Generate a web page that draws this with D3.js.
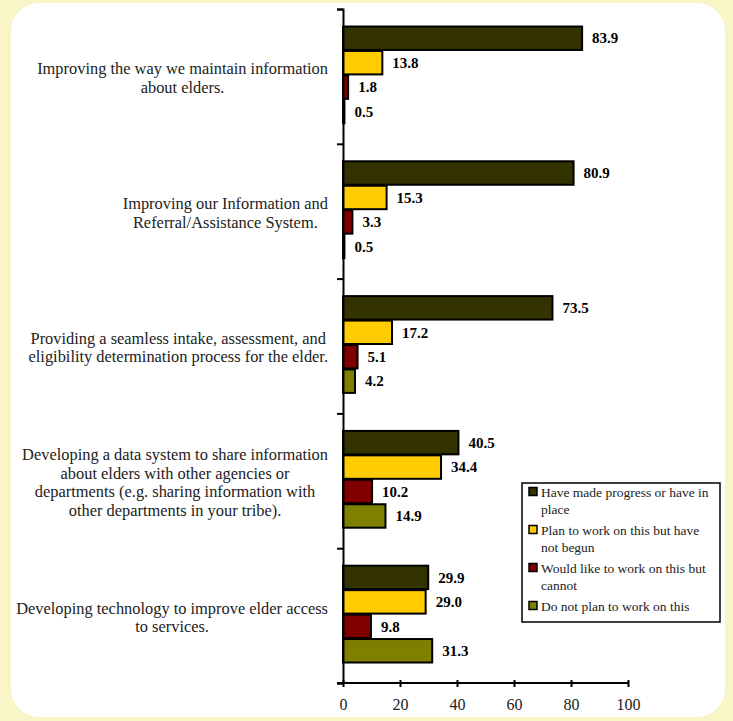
<!DOCTYPE html>
<html><head><meta charset="utf-8">
<script src="https://cdn.jsdelivr.net/npm/d3@7"></script>
<style>body{margin:0;background:#F8F6C6;}svg{display:block;} text{font-family:"Liberation Serif","Times New Roman",serif;}</style>
</head><body>
<svg id="c" width="733" height="721"></svg>
<script>
const categories = [
  ["Improving the way we maintain information", "about elders."],
  ["Improving our Information and", "Referral/Assistance System."],
  ["Providing a seamless intake, assessment, and", "eligibility determination process for the elder."],
  ["Developing a data system to share information", "about elders with other agencies or", "departments (e.g. sharing information with", "other departments in your tribe)."],
  ["Developing technology to improve elder access", "to services."]
];
const seriesNames = ["Have made progress or have in place", "Plan to work on this but have not begun", "Would like to work on this but cannot", "Do not plan to work on this"];
const legendLines = [["Have made progress or have in", "place"], ["Plan to work on this but have", "not begun"], ["Would like to work on this but", "cannot"], ["Do not plan to work on this"]];
const madeProgress = [83.9, 80.9, 73.5, 40.5, 29.9];
const planToWork = [13.8, 15.3, 17.2, 34.4, 29.0];
const wouldLike = [1.8, 3.3, 5.1, 10.2, 9.8];
const doNotPlan = [0.5, 0.5, 4.2, 14.9, 31.3];
const xTicks = [0, 20, 40, 60, 80, 100];
const colors = ["#333300", "#FFCC00", "#800000", "#808000"];

const seriesValues = [madeProgress, planToWork, wouldLike, doNotPlan];
const svg = d3.select("#c");

// panel
svg.append("rect").attr("x", 11).attr("y", 3).attr("width", 714).attr("height", 714)
  .attr("rx", 28).attr("fill", "#ffffff");

const x = d3.scaleLinear().domain([0, 100]).range([343, 628]);
const y0 = d3.scaleBand().domain(d3.range(categories.length)).range([9, 683]);
const y1 = d3.scaleBand().domain(d3.range(seriesNames.length)).range([17, y0.bandwidth() - 20]);

// bars
categories.forEach((cat, ci) => {
  const g = svg.append("g").attr("transform", `translate(0,${y0(ci)})`);
  seriesValues.forEach((vals, si) => {
    const v = vals[ci];
    g.append("rect").attr("x", x(0)).attr("y", y1(si) + 0.5)
      .attr("width", x(v) - x(0)).attr("height", y1.bandwidth() - 1)
      .attr("fill", colors[si]).attr("stroke", "#000").attr("stroke-width", 2);
    g.append("text").attr("x", x(v) + 10).attr("y", y1(si) + y1.bandwidth() / 2)
      .attr("dy", "0.35em").attr("font-weight", "bold")
      .attr("font-size", 15).attr("fill", "#000").text(v.toFixed(1));
  });
  // category label
  const lh = 18.5;
  const n = cat.length;
  const cy = y0(ci) + y0.bandwidth() / 2 + 1.5;
  const t = svg.append("g");
  const texts = cat.map((line, li) => t.append("text")
    .attr("y", cy + (li - (n - 1) / 2) * lh).attr("dy", "0.35em")
    .attr("font-size", 16.4).attr("fill", "#222")
    .attr("text-anchor", "middle").text(line));
  const maxW = d3.max(texts, tx => tx.node().getComputedTextLength());
  texts.forEach(tx => tx.attr("x", 328 - maxW / 2));
});

// y axis
const yAxis = d3.axisLeft(d3.scaleLinear().domain([0, categories.length]).range([9, 683]))
  .tickValues(d3.range(categories.length + 1)).tickSize(6).tickFormat("");
svg.append("g").attr("transform", `translate(${x(0)},0)`).call(yAxis)
  .call(g => { g.select(".domain").attr("stroke", "#000").attr("stroke-width", 2);
               g.selectAll(".tick line").attr("stroke", "#000").attr("stroke-width", 2); });

// x axis
const xAxis = d3.axisBottom(x).tickValues(xTicks).tickSize(4).tickSizeOuter(0).tickPadding(12);
svg.append("g").attr("transform", `translate(0,683)`).call(xAxis)
  .call(g => { g.select(".domain").attr("stroke", "#000").attr("stroke-width", 2)
                 .attr("d", `M${x(0) - 6},0H${x(100)}`);
               g.selectAll(".tick line").attr("stroke", "#000").attr("stroke-width", 2).attr("y1", -3);
               g.selectAll("text").attr("font-family", null).attr("font-size", 16).attr("fill", "#222"); });

// legend
const lg = svg.append("g");
lg.append("rect").attr("x", 522).attr("y", 483).attr("width", 198).attr("height", 139)
  .attr("fill", "#fff").attr("stroke", "#000").attr("stroke-width", 1.5);
const itemY = [492, 530, 568, 606];
legendLines.forEach((lines, i) => {
  lg.append("rect").attr("x", 529).attr("y", itemY[i] - 4.5).attr("width", 8).attr("height", 8)
    .attr("fill", colors[i]).attr("stroke", "#000").attr("stroke-width", 1.5);
  lines.forEach((l, li) => lg.append("text").attr("x", 541).attr("y", itemY[i] + li * 17)
    .attr("dy", "0.35em").attr("font-size", 13.5).attr("fill", "#222").text(l));
});
</script>
</body></html>
